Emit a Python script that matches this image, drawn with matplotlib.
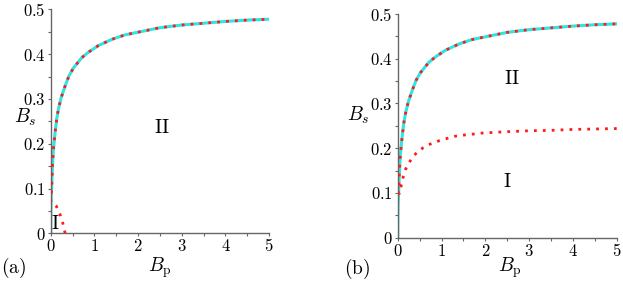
import matplotlib
matplotlib.use("Agg")
import matplotlib.pyplot as plt
from matplotlib.ticker import MultipleLocator, FuncFormatter

plt.rcParams['mathtext.fontset'] = 'cm'
plt.rcParams['font.family'] = 'DejaVu Serif'

# upper boundary (same in both panels)
bp_up = [0, 0.003, 0.01, 0.02, 0.04, 0.06, 0.1, 0.14, 0.18, 0.24, 0.33, 0.42, 0.52,
         0.71, 0.86, 1.09, 1.4, 1.7, 2.0, 2.5, 3.0, 3.5, 4.0, 4.5, 5.0]
bs_up = [0, 0.05, 0.08, 0.1, 0.15, 0.185, 0.225, 0.257, 0.279, 0.303, 0.329, 0.352,
         0.369, 0.392, 0.404, 0.419, 0.433, 0.443, 0.449, 0.459, 0.465, 0.469, 0.473,
         0.476, 0.478]

# lower boundary, panel (a)
bp_lo_a = [0.0, 0.06, 0.12, 0.2, 0.25, 0.29, 0.33]
bs_lo_a = [0.07, 0.068, 0.062, 0.046, 0.032, 0.018, 0.0]

# lower boundary, panel (b)
bp_lo_b = [0.02, 0.04, 0.07, 0.13, 0.18, 0.26, 0.35, 0.45, 0.58, 0.71, 0.86, 1.02,
           1.17, 1.32, 1.48, 1.63, 1.78, 1.94, 2.5, 3.0, 3.5, 4.0, 4.5, 5.0]
bs_lo_b = [0.1, 0.099, 0.112, 0.138, 0.153, 0.168, 0.181, 0.192, 0.201, 0.208, 0.214,
           0.219, 0.223, 0.227, 0.229, 0.231, 0.232, 0.234, 0.237, 0.239, 0.240, 0.242,
           0.243, 0.244]

cyan = '#30e4e4'
red = '#ff1a1a'
axc = '#666666'

fig = plt.figure(figsize=(6.23, 2.83), dpi=100)
ax1 = fig.add_axes([0.0814, 0.1756, 0.3506, 0.7914])
ax2 = fig.add_axes([0.6384, 0.160, 0.3515, 0.7905])


def fmt(v, pos):
    s = '0' if abs(v) < 1e-9 else ('%g' % v)
    return '$' + s + '$'


def red_curve(ax, xs, ys):
    ln, = ax.plot(xs, ys, color=red, lw=2.0, zorder=3)
    ln.set_dashes([1, 2.2])
    ln.set_dash_capstyle('butt')


for ax in (ax1, ax2):
    ax.plot(bp_up, bs_up, color=cyan, lw=2.2, zorder=2)
    ax.set_xlim(0, 5)
    ax.set_ylim(0, 0.5)
    for s in ('top', 'right'):
        ax.spines[s].set_visible(False)
    for s in ('left', 'bottom'):
        ax.spines[s].set_color(axc)
        ax.spines[s].set_linewidth(1.0)
    ax.xaxis.set_major_locator(MultipleLocator(1))
    ax.xaxis.set_minor_locator(MultipleLocator(0.5))
    ax.yaxis.set_major_locator(MultipleLocator(0.1))
    ax.yaxis.set_minor_locator(MultipleLocator(0.05))
    ax.xaxis.set_major_formatter(FuncFormatter(fmt))
    ax.yaxis.set_major_formatter(FuncFormatter(fmt))
    ax.tick_params(which='both', direction='out', length=2.5, width=0.8,
                   color=axc, labelsize=12, pad=1)
    ax.patch.set_visible(False)

# panel (a): red curve runs along the lower branch back to the axis, then up the upper one
xa = bp_lo_a[::-1] + bp_up[2:]
ya = bs_lo_a[::-1] + bs_up[2:]
red_curve(ax1, xa, ya)

# panel (b): lower branch back to the cusp, then up the upper branch
xb = bp_lo_b[::-1] + bp_up[3:]
yb = bs_lo_b[::-1] + bs_up[3:]
red_curve(ax2, xb, yb)

ax1.set_ylabel(r'$B_s$', fontsize=14, rotation=0, labelpad=8)
ax1.yaxis.set_label_coords(-0.115, 0.47)
ax1.set_xlabel(r'$B_{\rm p}$', fontsize=14, labelpad=0)
ax1.xaxis.set_label_coords(0.5, -0.1)
ax2.set_ylabel(r'$B_s$', fontsize=14, rotation=0, labelpad=8)
ax2.yaxis.set_label_coords(-0.18, 0.5)
ax2.set_xlabel(r'$B_{\rm p}$', fontsize=14, labelpad=0)
ax2.xaxis.set_label_coords(0.51, -0.08)

ax1.text(2.55, 0.235, r'$\mathrm{II}$', fontsize=14, ha='center', va='center')
ax1.text(0.1, 0.02, r'$\mathrm{I}$', fontsize=14, ha='center', va='center')
ax2.text(2.6, 0.355, r'$\mathrm{II}$', fontsize=14, ha='center', va='center')
ax2.text(2.5, 0.125, r'$\mathrm{I}$', fontsize=14, ha='center', va='center')

fig.text(0.002, 0.012, r'$\mathrm{(a)}$', fontsize=14, ha='left', va='bottom')
fig.text(0.573, 0.008, r'$\mathrm{(b)}$', fontsize=14, ha='center', va='bottom')

fig.savefig('out.png', dpi=100)
